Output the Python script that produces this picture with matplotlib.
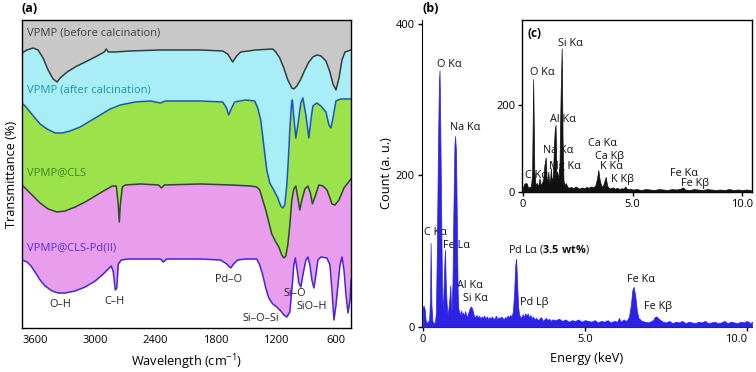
import numpy as np
import matplotlib
matplotlib.use("Agg")
import matplotlib.pyplot as plt

plt.rcParams['font.family'] = ['Open Sans', 'DejaVu Sans']
plt.rcParams['mathtext.fontset'] = 'custom'
plt.rcParams['mathtext.rm'] = 'Open Sans'
plt.rcParams['mathtext.bf'] = 'Open Sans:bold'
plt.rcParams['mathtext.default'] = 'regular'

# ---------------- FTIR data (a) ----------------
# curves in offset transmittance units (arbitrary), wavenumber in cm-1
wn_before = [3730, 3680, 3620, 3570, 3520, 3470, 3420, 3380, 3350, 3280, 3200, 3100, 3000,
             2910, 2890, 2870, 2800, 2650, 2350, 1950, 1730, 1680, 1630, 1590, 1550, 1400,
             1230, 1200, 1160, 1120, 1080, 1040, 1020, 990, 950, 910, 870, 830, 790, 750,
             700, 660, 630, 600, 570, 540, 510, 480, 450]
t_before = [275, 278, 280, 278, 270, 258, 249, 246, 250, 256, 261, 266, 271,
            276, 279, 276, 276, 277, 278, 278, 277, 274, 266, 272, 276, 278,
            279, 276, 270, 260, 248, 240, 239, 242, 249, 258, 266, 271, 273, 272,
            267, 256, 244, 238, 250, 268, 276, 277, 278]

wn_after = [3730, 3690, 3650, 3600, 3550, 3480, 3400, 3330, 3250, 3150, 3050, 2950, 2850,
            2750, 2600, 2450, 2350, 2300, 1950, 1730, 1690, 1670, 1640, 1610, 1500, 1410,
            1380, 1350, 1320, 1290, 1260, 1220, 1180, 1150, 1130, 1110, 1090, 1075, 1060,
            1045, 1035, 1020, 1000, 980, 950, 930, 900, 870, 850, 830, 790, 750, 700, 670,
            650, 630, 600, 550, 450]
t_after = [225, 221, 216, 210, 204, 199, 195, 195, 197, 201, 207, 213, 219,
           223, 226, 227, 225, 227, 227, 226, 220, 213, 220, 226, 228, 227,
           220, 208, 183, 158, 145, 138, 130, 122, 120, 123, 143, 168, 198,
           222, 228, 210, 190, 203, 225, 230, 213, 190, 208, 222, 225, 222, 216, 203,
           200, 210, 227, 229, 229]

wn_cls = [3730, 3680, 3620, 3550, 3470, 3380, 3300, 3200, 3100, 3000, 2900, 2830, 2790,
          2770, 2760, 2750, 2730, 2700, 2550, 2370, 2340, 2310, 1950, 1650, 1450, 1390,
          1360, 1330, 1300, 1270, 1240, 1200, 1170, 1140, 1120, 1100, 1080, 1060, 1040,
          1020, 1000, 980, 960, 940, 910, 880, 855, 835, 810, 770, 730, 690, 660, 640,
          610, 570, 520, 450]
t_cls = [143, 138, 132, 125, 119, 116, 117, 121, 126, 132, 138, 142, 142,
         123, 106, 123, 141, 143, 144, 143, 140, 143, 144, 143, 142, 141,
         138, 128, 118, 106, 94, 86, 81, 73, 70, 72, 83, 103, 128,
         139, 142, 130, 118, 128, 139, 142, 135, 124, 131, 143, 142, 138, 130, 124,
         123, 128, 140, 149]

wn_pd = [3730, 3680, 3640, 3600, 3550, 3500, 3430, 3370, 3300, 3200, 3100, 3000, 2920,
         2870, 2840, 2820, 2800, 2785, 2770, 2740, 2670, 2350, 2320, 2290, 1950, 1750,
         1690, 1650, 1620, 1580, 1500, 1390, 1360, 1330, 1300, 1270, 1230, 1190, 1150,
         1120, 1090, 1060, 1040, 1020, 1005, 990, 970, 950, 930, 900, 880, 860, 840, 820,
         800, 780, 750, 690, 660, 640, 620, 600, 580, 560, 540, 520, 500, 480, 460, 450]
t_pd = [68, 66, 62, 56, 48, 42, 37, 35, 35, 37, 41, 47, 54,
        59, 62, 56, 38, 40, 64, 68, 69, 69, 66, 69, 69, 68,
        64, 60, 64, 68, 69, 69, 63, 53, 40, 30, 24, 21, 17,
        13, 11, 16, 38, 63, 70, 60, 45, 41, 53, 68, 71, 63, 48, 40,
        53, 68, 71, 70, 63, 38, 8, 23, 43, 63, 71, 58, 33, 15, 28, 48]

ftir_ticks = [3600, 3000, 2400, 1800, 1200, 600]

# ---------------- EDX data (b), main spectrum ----------------
e_main = [0.00, 0.03, 0.06, 0.09, 0.12, 0.16, 0.20, 0.23, 0.245, 0.27, 0.30, 0.34, 0.38,
          0.41, 0.44, 0.47, 0.50, 0.52, 0.54, 0.57, 0.60, 0.62, 0.65, 0.67, 0.69, 0.71,
          0.74, 0.77, 0.80, 0.83, 0.85, 0.87, 0.89, 0.92, 0.95, 0.98, 1.00, 1.03, 1.06,
          1.08, 1.10, 1.13, 1.16, 1.19, 1.22, 1.25, 1.28, 1.31, 1.34, 1.37, 1.40, 1.43,
          1.46, 1.49, 1.52, 1.55, 1.58, 1.62, 1.66, 1.70, 1.74, 1.78, 1.82, 1.86, 1.90,
          1.94, 1.98, 2.02, 2.06, 2.10, 2.14, 2.18, 2.22, 2.26, 2.30, 2.34, 2.38, 2.42,
          2.46, 2.50, 2.54, 2.58, 2.62, 2.66, 2.70, 2.74, 2.78, 2.82, 2.85, 2.88, 2.91,
          2.94, 2.97, 3.00, 3.04, 3.08, 3.12, 3.16, 3.20, 3.24, 3.28, 3.32, 3.36, 3.40,
          3.45, 3.50, 3.55, 3.60, 3.65, 3.70, 3.75, 3.80, 3.85, 3.90, 3.95, 4.00, 4.10,
          4.20, 4.30, 4.40, 4.50, 4.60, 4.70, 4.80, 4.90, 5.00, 5.10, 5.20, 5.30, 5.40,
          5.50, 5.60, 5.70, 5.80, 5.90, 6.00, 6.05, 6.10, 6.20, 6.25, 6.30, 6.36, 6.42,
          6.46, 6.50, 6.55, 6.60, 6.65, 6.75, 6.85, 6.95, 7.05, 7.10, 7.15, 7.20, 7.30,
          7.40, 7.50, 7.60, 7.70, 7.80, 7.90, 8.00, 8.10, 8.20, 8.30, 8.40, 8.50, 8.60,
          8.70, 8.80, 8.90, 9.00, 9.10, 9.20, 9.30, 9.40, 9.50, 9.60, 9.70, 9.80, 9.90,
          10.00, 10.10, 10.15]
c_main = [26, 28, 24, 10, 5, 7, 9, 40, 111, 30, 8, 5, 6,
          20, 110, 230, 320, 339, 280, 150, 40, 22, 58, 85, 102, 60,
          30, 15, 26, 40, 55, 35, 22, 60, 160, 240, 252, 230, 110,
          45, 24, 20, 16, 22, 15, 19, 14, 21, 16, 13, 18, 22,
          26, 27, 25, 20, 15, 13, 16, 12, 15, 11, 14, 12, 15,
          11, 14, 10, 13, 11, 14, 10, 12, 15, 10, 13, 11, 14,
          12, 10, 13, 12, 15, 13, 16, 14, 20, 45, 80, 90, 60,
          28, 17, 14, 12, 17, 13, 18, 15, 18, 12, 16, 11, 14,
          10, 12, 9, 11, 13, 8, 10, 12, 9, 11, 8, 10, 9,
          11, 8, 10, 7, 9, 8, 10, 7, 9, 8, 7, 9, 6,
          8, 7, 9, 6, 8, 7, 12, 7, 10, 8, 9, 14, 30,
          48, 53, 42, 22, 12, 8, 7, 6, 8, 9, 13, 14, 10,
          7, 6, 8, 5, 7, 6, 8, 5, 7, 6, 5, 7, 6,
          8, 5, 6, 7, 5, 6, 8, 5, 7, 6, 5, 7, 6,
          8, 5, 7]

# ---------------- EDX data (c), inset spectrum ----------------
e_ins = [0.00, 0.06, 0.12, 0.18, 0.24, 0.30, 0.36, 0.42, 0.47, 0.52, 0.58, 0.64, 0.70,
         0.76, 0.82, 0.88, 0.93, 0.98, 1.04, 1.09, 1.13, 1.16, 1.20, 1.24, 1.28, 1.32,
         1.37, 1.42, 1.45, 1.49, 1.53, 1.57, 1.62, 1.67, 1.72, 1.77, 1.81, 1.85, 1.90,
         1.96, 2.02, 2.10, 2.20, 2.30, 2.40, 2.50, 2.60, 2.70, 2.80, 2.90, 3.00, 3.10,
         3.20, 3.30, 3.38, 3.44, 3.50, 3.58, 3.66, 3.72, 3.78, 3.84, 3.92, 4.00, 4.10,
         4.20, 4.30, 4.40, 4.50, 4.60, 4.66, 4.72, 4.80, 4.90, 5.00, 5.20, 5.40, 5.60,
         5.80, 6.00, 6.20, 6.40, 6.60, 6.80, 7.00, 7.20, 7.30, 7.40, 7.60, 7.80, 8.00,
         8.20, 8.40, 8.60, 8.80, 9.00, 9.20, 9.40, 9.60, 9.80, 10.00, 10.20, 10.40]
c_ins = [10, 18, 20, 19, 8, 12, 9, 40, 259, 50, 15, 20, 12,
         31, 14, 22, 30, 60, 79, 23, 30, 46, 19, 28, 54, 23,
         35, 110, 140, 154, 39, 46, 30, 60, 220, 330, 120, 27, 15,
         20, 12, 9, 11, 8, 12, 9, 7, 10, 8, 11, 9, 12,
         10, 14, 30, 50, 28, 12, 15, 25, 34, 14, 9, 8, 10,
         7, 9, 6, 8, 7, 12, 8, 6, 7, 5, 6, 4, 6,
         5, 4, 6, 5, 4, 6, 5, 7, 10, 5, 4, 6, 5,
         4, 6, 5, 4, 5, 4, 6, 4, 5, 4, 5, 4]

# ---------------- figure ----------------
fig = plt.figure(figsize=(7.56, 3.72), dpi=100)

ax = fig.add_axes([0.0291, 0.1183, 0.4352, 0.828])
# stacked shading: each region painted from its curve down to the bottom
ax.fill_between(wn_before, 0, 310, color='#c8c8c8', lw=0, zorder=1)
ax.fill_between(wn_before, 0, t_before, color='#a9eef7', lw=0, zorder=1.1)
ax.fill_between(wn_after, 0, t_after, color='#9be24b', lw=0, zorder=1.2)
ax.fill_between(wn_cls, 0, t_cls, color='#e89ded', lw=0, zorder=1.3)
ax.fill_between(wn_pd, 0, t_pd, color='white', lw=0, zorder=1.4)
ax.plot(wn_before, t_before, color='#3a3a3a', lw=1.1, zorder=2)
ax.plot(wn_after, t_after, color='#1b52c4', lw=1.1, zorder=2)
ax.plot(wn_cls, t_cls, color='#24501a', lw=1.1, zorder=2)
ax.plot(wn_pd, t_pd, color='#4b22e0', lw=1.1, zorder=2)
ax.set_xlim(3730, 450)
ax.set_ylim(0, 308)
ax.set_yticks([])
ax.set_xticks(ftir_ticks)
ax.tick_params(axis='x', length=0, pad=5, labelsize=8)
for s in ax.spines.values():
    s.set_linewidth(1.0)
    s.set_zorder(5)
ax.set_xlabel('Wavelength (cm$^{-1}$)', fontsize=9.2, labelpad=5)
ax.set_ylabel('Transmittance (%)', fontsize=9.2, labelpad=3)

lab = dict(fontsize=8, va='center', ha='left', zorder=3)
ax.text(3680, 295, 'VPMP (before calcination)', color='#404040', **lab)
ax.text(3680, 238, 'VPMP (after calcination)', color='#1a98ae', **lab)
ax.text(3680, 155, 'VPMP@CLS', color='#3a8a1c', **lab)
ax.text(3680, 80, 'VPMP@CLS-Pd(II)', color='#5a2ed8', **lab)
bands = dict(fontsize=7.8, va='center', ha='center', color='#202020', zorder=3)
ax.text(3350, 23, 'O–H', **bands)
ax.text(2810, 26, 'C–H', **bands)
ax.text(1670, 48, 'Pd–O', **bands)
ax.text(1350, 9, 'Si–O–Si', **bands)
ax.text(1015, 34, 'Si–O', **bands)
ax.text(840, 21, 'SiO–H', **bands)

# main EDX
bx = fig.add_axes([0.5582, 0.121, 0.4365, 0.825])
bx.fill_between(e_main, 0, c_main, color='#2b22e4', lw=0.5, zorder=3)
bx.set_xlim(-0.02, 10.15)
bx.set_ylim(0, 405)
bx.set_xticks([0, 5, 10])
bx.set_xticklabels(['0', '5.0', '10.0'])
bx.get_xticklabels()[-1].set_ha('right')
bx.set_yticks([0, 200, 400])
bx.spines['top'].set_visible(False)
bx.spines['right'].set_visible(False)
bx.tick_params(length=3, width=1, labelsize=8, pad=2)
bx.set_xlabel('Energy (keV)', fontsize=9.2, labelpad=5)
bx.set_ylabel('Count (a. u.)', fontsize=9.2, labelpad=2)

el = dict(fontsize=7.8, va='center', ha='center', color='#111111', zorder=1)
bx.text(0.82, 347, 'O Kα', **el)
bx.text(1.31, 263, 'Na Kα', **el)
bx.text(0.40, 125, 'C Kα', **el)
bx.text(1.04, 107, 'Fe Lα', **el)
bx.text(3.9, 102, r'Pd Lα ($\mathbf{3.5\ wt\%}$)', **el)
bx.text(1.47, 55, 'Al Kα', **el)
bx.text(1.62, 37, 'Si Kα', **el)
bx.text(3.45, 32, 'Pd Lβ', **el)
bx.text(6.72, 63, 'Fe Kα', **el)
bx.text(7.26, 27, 'Fe Kβ', **el)

# inset EDX
cx = fig.add_axes([0.6905, 0.4847, 0.3042, 0.4613])
cx.fill_between(e_ins, 0, c_ins, color='#111111', lw=0.5, zorder=3)
cx.set_xlim(-0.04, 10.45)
cx.set_ylim(0, 395)
cx.set_xticks([0, 5, 10])
cx.set_xticklabels(['0', '5.0', '10.0'])
cx.set_yticks([0, 200])
cx.tick_params(length=3, width=1, labelsize=8, pad=2)
for s in cx.spines.values():
    s.set_linewidth(1.0)
cx.text(0.022, 0.924, '(c)', transform=cx.transAxes, fontsize=8.5, fontweight='bold',
        va='center', ha='left')
cx.text(2.15, 342, 'Si Kα', **el)
cx.text(0.87, 275, 'O Kα', **el)
cx.text(1.83, 167, 'Al Kα', **el)
cx.text(1.60, 94, 'Na Kα', **el)
cx.text(1.92, 59, 'Mg Kα', **el)
cx.text(0.64, 38, 'C Kα', **el)
cx.text(3.61, 110, 'Ca Kα', **el)
cx.text(3.93, 82, 'Ca Kβ', **el)
cx.text(4.02, 57, 'K Kα', **el)
cx.text(4.52, 29, 'K Kβ', **el)
cx.text(7.35, 43, 'Fe Kα', **el)
cx.text(7.85, 20, 'Fe Kβ', **el)

fig.text(22 / 756, 1 - 9 / 372, '(a)', fontsize=9, fontweight='bold', va='center', ha='left')
fig.text(422 / 756, 1 - 9 / 372, '(b)', fontsize=9, fontweight='bold', va='center', ha='left')

fig.savefig('out.png', dpi=100)
